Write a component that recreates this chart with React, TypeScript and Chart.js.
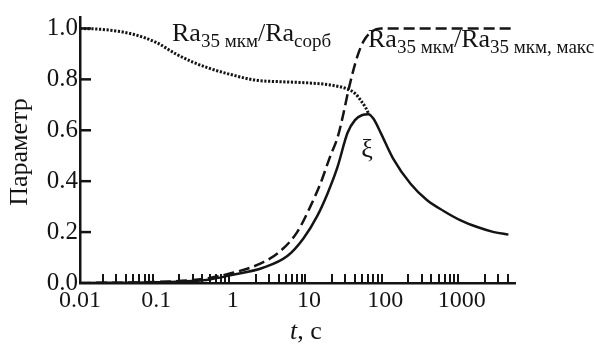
import { useEffect, useRef } from "react";
import { Chart, registerables } from "chart.js";
Chart.register(...registerables);

// ---- data ----
const xTickValues = [0.01, 0.1, 1, 10, 100, 1000];
const xTickLabels = ["0.01", "0.1", "1", "10", "100", "1000"];
const yTickValues = [0, 0.2, 0.4, 0.6, 0.8, 1.0];
const yTickLabels = ["0.0", "0.2", "0.4", "0.6", "0.8", "1.0"];
const xMinorTicks = [
  0.02, 0.03, 0.04, 0.05, 0.06, 0.07, 0.08, 0.09,
  0.2, 0.3, 0.4, 0.5, 0.6, 0.7, 0.8, 0.9,
  2, 3, 4, 5, 6, 7, 8, 9,
  20, 30, 40, 50, 60, 70, 80, 90,
  200, 300, 400, 500, 600, 700, 800, 900,
  2000, 3000, 4000,
];

// Ra35/Ra_sorb (dotted)
const sorbT = [0.01, 0.02, 0.05, 0.1, 0.18, 0.3, 0.5, 1, 2, 5, 10, 20, 33, 40, 47, 55, 60];
const sorbV = [1.0, 0.996, 0.977, 0.945, 0.9, 0.868, 0.843, 0.817, 0.797, 0.79, 0.786, 0.777, 0.76, 0.745, 0.72, 0.69, 0.667];

// Ra35/Ra35,max (dashed)
const maxT = [0.01, 0.1, 0.3, 0.5, 1, 2.3, 4.2, 7, 10.4, 14.1, 19.1, 23.6, 28, 33, 43, 52, 68, 87, 120, 4500];
const maxV = [0.0, 0.004, 0.012, 0.02, 0.04, 0.076, 0.125, 0.2, 0.3, 0.39, 0.5, 0.57, 0.66, 0.76, 0.89, 0.95, 0.99, 1.0, 1.0, 1.0];

// xi (solid)
const xiT = [0.01, 0.1, 0.3, 0.5, 0.93, 2.5, 5.2, 8.4, 12.9, 17.4, 23.6, 32, 40, 50, 60, 70, 87, 126, 214, 350, 580, 970, 1600, 2650, 4100];
const xiV = [0.0, 0.003, 0.008, 0.014, 0.03, 0.06, 0.106, 0.174, 0.265, 0.35, 0.455, 0.59, 0.64, 0.66, 0.663, 0.645, 0.59, 0.49, 0.39, 0.326, 0.283, 0.246, 0.22, 0.2, 0.19];

const INK = "#141414";
const SERIF = "'Liberation Serif', 'DejaVu Serif', serif";

type Part = { text: string; sub?: boolean };
const label1: Part[] = [
  { text: "Ra" },
  { text: "35 мкм", sub: true },
  { text: "/Ra" },
  { text: "сорб", sub: true },
];
const label2: Part[] = [
  { text: "Ra" },
  { text: "35 мкм", sub: true },
  { text: "/Ra" },
  { text: "35 мкм, макс", sub: true },
];

function drawRich(ctx: CanvasRenderingContext2D, parts: Part[], x: number, y: number) {
  let cx = x;
  ctx.textAlign = "left";
  ctx.textBaseline = "alphabetic";
  for (const p of parts) {
    ctx.font = p.sub ? `19px ${SERIF}` : `26px ${SERIF}`;
    ctx.fillText(p.text, cx, p.sub ? y + 6 : y);
    cx += ctx.measureText(p.text).width;
  }
}

const overlay = {
  id: "overlay",
  afterDraw(chart: any) {
    const { ctx, chartArea, scales } = chart;
    const xs = scales.x;
    const ys = scales.y;
    ctx.save();
    ctx.strokeStyle = INK;
    ctx.fillStyle = INK;
    // inward major ticks on y axis
    ctx.lineWidth = 2.5;
    for (const v of yTickValues) {
      if (v === 0) continue;
      const py = ys.getPixelForValue(v);
      ctx.beginPath();
      ctx.moveTo(chartArea.left, py);
      ctx.lineTo(chartArea.left + 11, py);
      ctx.stroke();
    }
    // inward minor ticks on x axis
    ctx.lineWidth = 2;
    for (const t of xMinorTicks) {
      const px = Math.round(xs.getPixelForValue(t));
      ctx.beginPath();
      ctx.moveTo(px, chartArea.bottom);
      ctx.lineTo(px, chartArea.bottom - 9);
      ctx.stroke();
    }
    // curve labels
    drawRich(ctx, label1, chartArea.left + 92, 41);
    drawRich(ctx, label2, chartArea.left + 288, 47);
    ctx.font = `26px ${SERIF}`;
    ctx.textAlign = "center";
    ctx.textBaseline = "middle";
    ctx.fillText("ξ", chartArea.left + 287, 150);

    // axis titles
    ctx.save();
    ctx.translate(20, 152);
    ctx.rotate(-Math.PI / 2);
    ctx.font = `26px ${SERIF}`;
    ctx.textAlign = "center";
    ctx.textBaseline = "middle";
    ctx.fillText("Параметр", 0, 0);
    ctx.restore();

    ctx.textAlign = "left";
    ctx.textBaseline = "alphabetic";
    ctx.font = `italic 26px ${SERIF}`;
    const tx = 290;
    ctx.fillText("t", tx, 339);
    const tw = ctx.measureText("t").width;
    ctx.font = `26px ${SERIF}`;
    ctx.fillText(", c", tx + tw, 339);
    ctx.restore();
  },
};

export default function App() {
  const ref = useRef<HTMLCanvasElement | null>(null);
  useEffect(() => {
    if (!ref.current) return;
    const mk = (ts: number[], vs: number[]) => ts.map((t, i) => ({ x: t, y: vs[i] }));
    const chart = new Chart(ref.current, {
      type: "line",
      data: {
        datasets: [
          {
            label: "Ra35 мкм/Raсорб",
            data: mk(sorbT, sorbV),
            borderColor: INK,
            borderWidth: 3,
            borderDash: [2.2, 1.6],
            borderCapStyle: "butt",
            pointRadius: 0,
            cubicInterpolationMode: "monotone",
          },
          {
            label: "Ra35 мкм/Ra35 мкм, макс",
            data: mk(maxT, maxV),
            borderColor: INK,
            borderWidth: 2.5,
            borderDash: [11, 5],
            borderCapStyle: "butt",
            pointRadius: 0,
            cubicInterpolationMode: "monotone",
          },
          {
            label: "ξ",
            data: mk(xiT, xiV),
            borderColor: INK,
            borderWidth: 2.5,
            pointRadius: 0,
            cubicInterpolationMode: "monotone",
          },
        ],
      },
      options: {
        responsive: false,
        animation: false,
        layout: { padding: { top: 7, right: 79, left: 0, bottom: 0 } },
        plugins: { legend: { display: false }, tooltip: { enabled: false } },
        scales: {
          x: {
            type: "logarithmic",
            min: 0.01,
            max: 5000,
            afterFit: (s: any) => {
              s.height = 61;
            },
            afterBuildTicks: (s: any) => {
              s.ticks = xTickValues.map((v) => ({ value: v, major: true }));
            },
            ticks: {
              autoSkip: false,
              maxRotation: 0,
              padding: 3,
              color: INK,
              font: { family: SERIF, size: 24 },
              callback: (v: any) => {
                const i = xTickValues.findIndex((t) => Math.abs(t - Number(v)) < 1e-9 * Math.max(1, t));
                return i >= 0 ? xTickLabels[i] : "";
              },
            },
            grid: { display: true, drawOnChartArea: false, drawTicks: false, color: "rgba(0,0,0,0)" },
            border: { display: true, color: INK, width: 2.5 },
          },
          y: {
            type: "linear",
            min: 0,
            max: 1.045,
            afterFit: (s: any) => {
              s.width = 80;
            },
            afterBuildTicks: (s: any) => {
              s.ticks = yTickValues.map((v) => ({ value: v }));
            },
            ticks: {
              padding: 2,
              color: INK,
              font: { family: SERIF, size: 25 },
              callback: (v: any) => {
                const i = yTickValues.findIndex((t) => Math.abs(t - Number(v)) < 1e-9);
                return i >= 0 ? yTickLabels[i] : "";
              },
            },
            grid: { display: true, drawOnChartArea: false, drawTicks: false, color: "rgba(0,0,0,0)" },
            border: { display: true, color: INK, width: 2.5 },
          },
        },
      },
      plugins: [overlay],
    });
    return () => chart.destroy();
  }, []);
  return (
    <div style={{ position: "absolute", left: 0, top: 0, width: 594, height: 344, background: "#fff" }}>
      <canvas ref={ref} width={594} height={344} style={{ display: "block", width: 594, height: 344 }} />
    </div>
  );
}
